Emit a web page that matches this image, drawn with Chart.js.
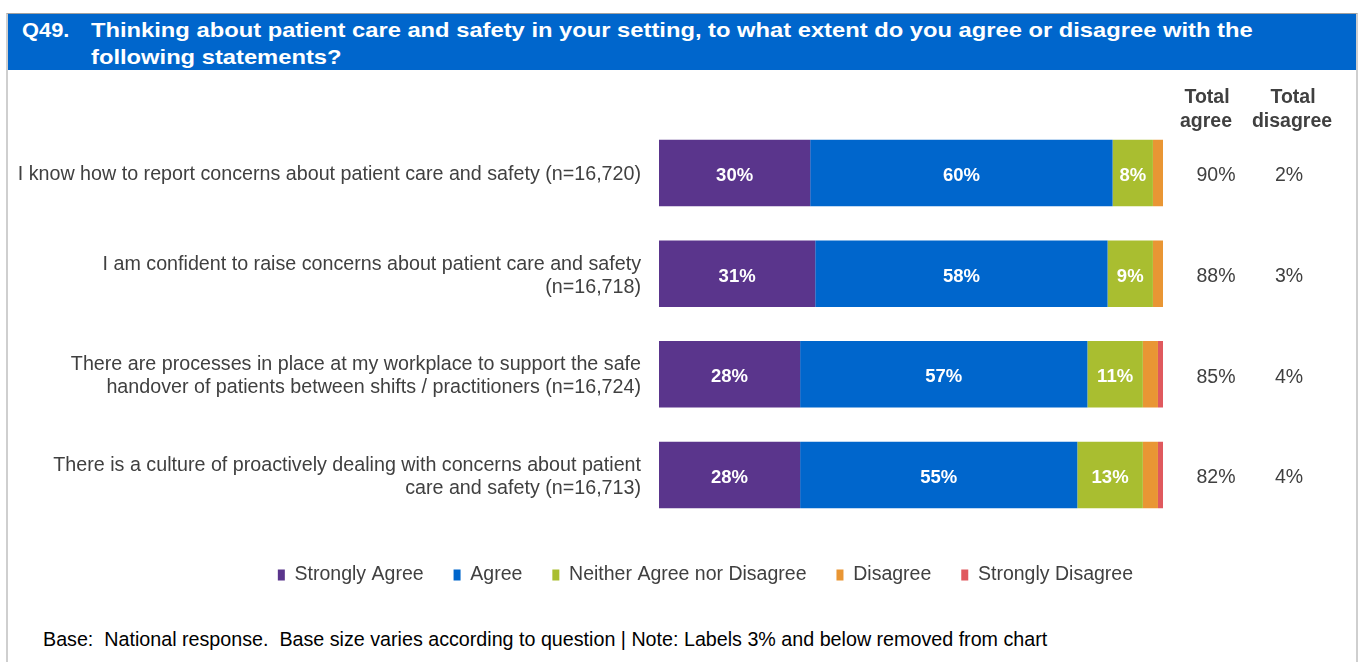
<!DOCTYPE html>
<html>
<head>
<meta charset="utf-8">
<script src="https://cdn.jsdelivr.net/npm/chart.js"></script>
<style>
  body { margin: 0; background: #fff; font-family: "Liberation Sans", Arial, sans-serif; }
  #frame { position: absolute; left: 6px; top: 13px; width: 1348px; height: 660px;
           border-left: 2px solid #cfcfcf; border-right: 2px solid #cfcfcf; border-top: 1px solid #a0a0a0; }
  #titlebar { position: absolute; left: 8px; top: 14px; width: 1348px; height: 56px; background: #0066cc; }
  .title { position: absolute; color: #fff; font-weight: bold; font-size: 21px; line-height: 27px; white-space: pre; transform-origin: 0 0; }
  #footer { position: absolute; left: 43px; top: 628px; font-size: 19.7px; color: #000; white-space: pre; }
  canvas { position: absolute; left: 0; top: 0; }
</style>
</head>
<body>
<div id="frame"></div>
<div id="titlebar"></div>
<div class="title" style="left:22px; top:16px; transform: scaleX(1.04);">Q49.</div>
<div class="title" style="left:91px; top:16px; transform: scaleX(1.13);">Thinking about patient care and safety in your setting, to what extent do you agree or disagree with the
following statements?</div>
<div id="footer">Base:  National response.  Base size varies according to question | Note: Labels 3% and below removed from chart</div>
<canvas id="myChart" width="1363" height="662"></canvas>
<script>
const ctx = document.getElementById('myChart');

// categories and series values
var categories = [
  'I know how to report concerns about patient care and safety (n=16,720)',
  ['I am confident to raise concerns about patient care and safety', '(n=16,718)'],
  ['There are processes in place at my workplace to support the safe', 'handover of patients between shifts / practitioners (n=16,724)'],
  ['There is a culture of proactively dealing with concerns about patient', 'care and safety (n=16,713)']
];
var seriesNames = ['Strongly Agree', 'Agree', 'Neither Agree nor Disagree', 'Disagree', 'Strongly Disagree'];
var stronglyAgree = [30, 31, 28, 28];
var agree = [60, 58, 57, 55];
var neither = [8, 9, 11, 13];
var disagree = [2, 2, 3, 3];
var stronglyDisagree = [0, 0, 1, 1];
var totalAgree = [90, 88, 85, 82];
var totalDisagree = [2, 3, 4, 4];
var colors = ['#5a358c', '#0066cc', '#a9be30', '#e99634', '#e0595e'];

var seriesValues = [stronglyAgree, agree, neither, disagree, stronglyDisagree];
var font = '"Liberation Sans", Arial, sans-serif';

// white % labels inside the bars (3% and below left out)
const barLabels = {
  id: 'barLabels',
  afterDatasetsDraw(chart) {
    const c = chart.ctx;
    c.save();
    c.font = 'bold 18.5px ' + font;
    c.fillStyle = '#fff';
    c.textAlign = 'center';
    c.textBaseline = 'middle';
    chart.data.datasets.forEach((ds, d) => {
      chart.getDatasetMeta(d).data.forEach((bar, i) => {
        if (ds.data[i] > 3) c.fillText(ds.data[i] + '%', (bar.x + bar.base) / 2, bar.y + 3);
      });
    });
    c.restore();
  }
};

// Total agree / Total disagree columns
const totals = {
  id: 'totals',
  afterDraw(chart) {
    const c = chart.ctx;
    const y = chart.scales.y;
    c.save();
    c.fillStyle = '#404040';
    c.textAlign = 'center';
    c.textBaseline = 'middle';
    c.font = 'bold 19.5px ' + font;
    c.fillText('Total', 1207, 98);
    c.fillText('agree', 1206, 122);
    c.fillText('Total', 1293, 98);
    c.fillText('disagree', 1292, 122);
    c.font = '19.5px ' + font;
    categories.forEach((cat, i) => {
      c.fillText(totalAgree[i] + '%', 1216, y.getPixelForValue(i) + 3);
      c.fillText(totalDisagree[i] + '%', 1289, y.getPixelForValue(i) + 3);
    });
    c.restore();
  }
};

new Chart(ctx, {
  type: 'bar',
  data: {
    labels: categories,
    datasets: seriesNames.map((name, k) => ({
      label: name,
      data: seriesValues[k],
      backgroundColor: colors[k],
      borderWidth: 0,
      categoryPercentage: 1,
      barPercentage: 0.66
    }))
  },
  options: {
    responsive: false,
    animation: false,
    indexAxis: 'y',
    layout: { padding: { top: 122.75, right: 200, bottom: 67.25, left: 0 } },
    scales: {
      x: {
        stacked: true, min: 0, max: 100,
        grid: { display: false }, border: { display: false },
        ticks: { display: false },
        afterFit: (s) => { s.height = 10; }
      },
      y: {
        stacked: true,
        grid: { display: false, drawTicks: false }, border: { display: false },
        ticks: { color: '#404040', padding: 18, labelOffset: 2, font: { family: font, size: 19.7, lineHeight: 1.16 } },
        afterFit: (s) => { s.width = 659; }
      }
    },
    plugins: {
      legend: {
        position: 'bottom',
        align: 'end',
        labels: { boxWidth: 7, boxHeight: 11, padding: 30, color: '#404040', font: { family: font, size: 19.5 } }
      },
      tooltip: { enabled: false }
    }
  },
  plugins: [barLabels, totals]
});
</script>
</body>
</html>
